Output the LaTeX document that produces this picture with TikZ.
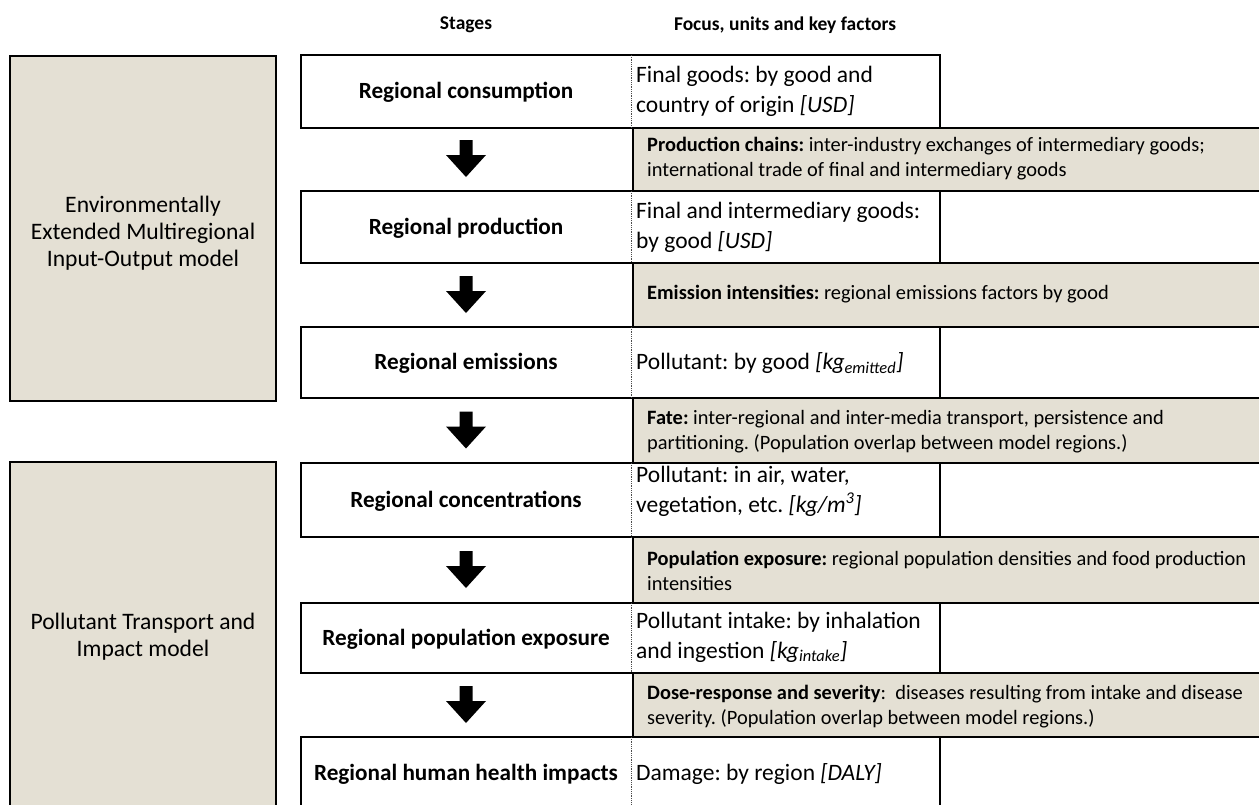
\documentclass[tikz,border=0pt]{standalone}
\usepackage{fontspec}
\setmainfont{Carlito}
\definecolor{shadefill}{RGB}{228,224,212}
\begin{document}
\frenchspacing
\begin{tikzpicture}[x=1pt,y=-1pt,
  rowbox/.style={draw=black,line width=2pt,fill=white,inner sep=0pt,outer sep=0pt,minimum width=639pt},
  modelbox/.style={draw=black,line width=2.6pt,fill=shadefill,inner sep=0pt,outer sep=0pt,minimum width=266pt},
  factorbox/.style={draw=black,line width=2.6pt,fill=shadefill,inner sep=0pt,outer sep=0pt,minimum width=632pt},
  stagetext/.style={font=\fontsize{23.2}{27}\selectfont\bfseries,inner sep=0pt},
  focustext/.style={font=\fontsize{23.5}{30}\selectfont,align=left,anchor=west,inner sep=0pt},
  factortext/.style={font=\fontsize{20.4}{25}\selectfont,align=left,anchor=west,inner sep=0pt},
  modeltext/.style={font=\fontsize{23.6}{27}\selectfont,align=center,inner sep=0pt},
  headtext/.style={font=\fontsize{19.5}{22}\selectfont\bfseries,inner sep=0pt},
  sepline/.style={densely dotted,line width=0.8pt,black!70},
  downarr/.pic={\fill[black] (-6.5,0) -- (6.5,0) -- (6.5,15) -- (20,15) -- (0,37) -- (-20,15) -- (-6.5,15) -- cycle;}
]
\clip (0,0) rectangle (1259,804);
\fill[white] (0,0) rectangle (1259,804);

% headers
\node[headtext] (hstages) at (466,25) {Stages};
\node[headtext] (hfocus) at (785,25) {Focus, units and key factors};

% model boxes
\node[modelbox,minimum height=345pt] (m1) at (143,228.5) {};
\node[modeltext] (m1t) at (143,233) {Environmentally\\Extended Multiregional\\Input-Output model};
\node[modelbox,minimum height=350pt] (m2) at (143,637) {};
\node[modeltext] (m2t) at (143,637) {Pollutant Transport and\\Impact model};

% stage rows
\node[rowbox,minimum height=73pt] (w1) at (620.5,91.5) {};
\node[rowbox,minimum height=72pt] (w2) at (620.5,227) {};
\node[rowbox,minimum height=71pt] (w3) at (620.5,362.5) {};
\node[rowbox,minimum height=74pt] (w4) at (620.5,500) {};
\node[rowbox,minimum height=70pt] (w5) at (620.5,638) {};
\node[rowbox,minimum height=73pt] (w6) at (620.5,773.5) {};

\foreach \w in {w1,w2,w3,w4,w5,w6}{
  \draw[sepline] ([xshift=330pt]\w.north west) -- ([xshift=330pt]\w.south west);
}

% factor boxes
\node[factorbox,minimum height=63pt] (s1) at (949,159.5) {};
\node[factorbox,minimum height=64pt] (s2) at (949,295) {};
\node[factorbox,minimum height=65pt] (s3) at (949,430.5) {};
\node[factorbox,minimum height=66pt] (s4) at (949,570) {};
\node[factorbox,minimum height=64pt] (s5) at (949,705) {};

% stage texts
\node[stagetext] (st1) at (466,92.5) {Regional consumption};
\node[stagetext] (st2) at (466,228) {Regional production};
\node[stagetext] (st3) at (466,363.5) {Regional emissions};
\node[stagetext] (st4) at (466,501) {Regional concentrations};
\node[stagetext] (st5) at (466,639) {Regional population exposure};
\node[stagetext] (st6) at (466,774.5) {Regional human health impacts};

% focus texts
\node[focustext] (f1) at (636,91.5) {Final goods: by good and\\country of origin \textit{[USD]}};
\node[focustext] (f2) at (636,227) {Final and intermediary goods:\\by good \textit{[USD]}};
\node[focustext] (f3) at (636,363) {Pollutant: by good \textit{[kg\textsubscript{emitted}]}};
\node[focustext] (f4) at (636,491.5) {Pollutant: in air, water,\\vegetation, etc. \textit{[kg/m\textsuperscript{3}]}};
\node[focustext] (f5) at (636,637) {Pollutant intake: by inhalation\\and ingestion \textit{[kg\textsubscript{intake}]}};
\node[focustext] (f6) at (636,774) {Damage: by region \textit{[DALY]}};

% factor texts
\node[factortext] (t1) at (647,159) {\textbf{Production chains:} inter-industry exchanges of intermediary goods;\\international trade of final and intermediary goods};
\node[factortext] (t2) at (647,294) {\textbf{Emission intensities:} regional emissions factors by good};
\node[factortext] (t3) at (647,432) {\textbf{Fate:} inter-regional and inter-media transport, persistence and\\partitioning. (Population overlap between model regions.)};
\node[factortext] (t4) at (647,571) {\textbf{Population exposure:} regional population densities and food production\\intensities};
\node[factortext] (t5) at (647,707) {\textbf{Dose-response and severity}:\ \ diseases resulting from intake and disease\\severity. (Population overlap between model regions.)};

% arrows
\pic at (466,140) {downarr};
\pic at (466,276) {downarr};
\pic at (466,411.5) {downarr};
\pic at (466,551) {downarr};
\pic at (466,686) {downarr};
\end{tikzpicture}
\end{document}
